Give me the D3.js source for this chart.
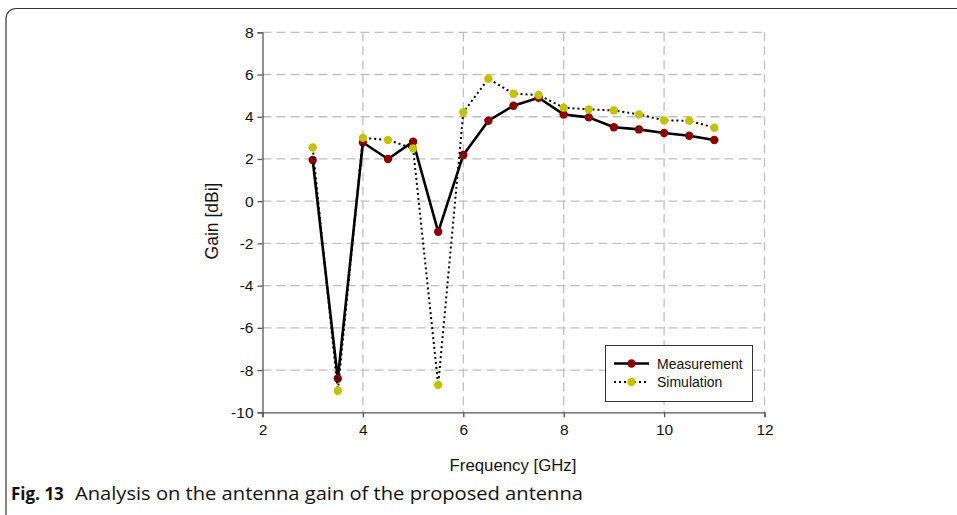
<!DOCTYPE html>
<html><head><meta charset="utf-8">
<script src="https://cdn.jsdelivr.net/npm/d3@7"></script>
<style>
body{margin:0;background:#fff;}
svg{display:block;}
</style></head>
<body>
<svg id="chart" width="957" height="515"></svg>
<script>
const frequencies = [3, 3.5, 4, 4.5, 5, 5.5, 6, 6.5, 7, 7.5, 8, 8.5, 9, 9.5, 10, 10.5, 11];
const measurement = [1.95, -8.4, 2.78, 2.0, 2.82, -1.45, 2.19, 3.81, 4.52, 4.9, 4.11, 3.97, 3.5, 3.4, 3.23, 3.1, 2.9];
const simulation = [2.54, -8.98, 3.0, 2.9, 2.5, -8.7, 4.21, 5.8, 5.09, 5.03, 4.43, 4.35, 4.3, 4.11, 3.83, 3.81, 3.48];
const xTicks = [2, 4, 6, 8, 10, 12];
const yTicks = [-10, -8, -6, -4, -2, 0, 2, 4, 6, 8];
const seriesNames = ["Measurement", "Simulation"];

const svg = d3.select("#chart");
const L = 262.5, R = 764.5, T = 32.3, B = 412.3;
const x = d3.scaleLinear().domain([2, 12]).range([L, R]);
const y = d3.scaleLinear().domain([-10, 8]).range([B, T]);

// frame
svg.append("rect").attr("x", 6).attr("y", 8.5).attr("width", 1000).attr("height", 560)
  .attr("rx", 10).attr("fill", "none").attr("stroke", "#333").attr("stroke-width", 1.2);

// grid
const grid = svg.append("g");
grid.selectAll(".vg").data(xTicks.filter(d => d > 2)).enter().append("line")
  .attr("x1", d => x(d)).attr("x2", d => x(d)).attr("y1", T).attr("y2", B)
  .attr("stroke", "#c0c0c0").attr("stroke-width", 1.3).attr("stroke-dasharray", "9,5");
grid.selectAll(".hg").data(yTicks.filter(d => d > -10)).enter().append("line")
  .attr("x1", L).attr("x2", R).attr("y1", d => y(d)).attr("y2", d => y(d))
  .attr("stroke", "#c0c0c0").attr("stroke-width", 1.3).attr("stroke-dasharray", "9,5");

// axes
const fontFam = "'Liberation Sans', Arial, sans-serif";
const fmt = d => String(d);
const yAxis = svg.append("g").attr("transform", `translate(${L},0)`)
  .call(d3.axisLeft(y).tickValues(yTicks).tickSize(5).tickPadding(4).tickFormat(fmt));
const xAxis = svg.append("g").attr("transform", `translate(0,${B})`)
  .call(d3.axisBottom(x).tickValues(xTicks).tickSize(5).tickPadding(7).tickFormat(fmt));
[yAxis, xAxis].forEach(a => {
  a.select(".domain").attr("stroke", "#555").attr("stroke-width", 1.3);
  a.selectAll(".tick line").attr("stroke", "#555").attr("stroke-width", 1.3);
  a.selectAll("text").attr("font-family", fontFam).attr("font-size", 15.5).attr("fill", "#111");
});

// lines
const data = frequencies.map((f, i) => ({ f, m: measurement[i], s: simulation[i] }));
const lineM = d3.line().x(d => x(d.f)).y(d => y(d.m));
const lineS = d3.line().x(d => x(d.f)).y(d => y(d.s));

svg.append("path").datum(data).attr("d", lineM).attr("fill", "none")
  .attr("stroke", "#000").attr("stroke-width", 2.6).attr("stroke-linejoin", "round");
svg.append("g").selectAll("circle").data(data).enter().append("circle")
  .attr("cx", d => x(d.f)).attr("cy", d => y(d.m)).attr("r", 4.2).attr("fill", "#8b0000");

svg.append("path").datum(data).attr("d", lineS).attr("fill", "none")
  .attr("stroke", "#000").attr("stroke-width", 2).attr("stroke-dasharray", "2,3");
svg.append("g").selectAll("circle").data(data).enter().append("circle")
  .attr("cx", d => x(d.f)).attr("cy", d => y(d.s)).attr("r", 4.2).attr("fill", "#c2c200");

// legend
const lg = svg.append("g");
lg.append("rect").attr("x", 605.5).attr("y", 345.5).attr("width", 147).attr("height", 56)
  .attr("fill", "#fff").attr("stroke", "#333").attr("stroke-width", 1);
const legendItems = [
  { name: seriesNames[0], color: "#8b0000", dash: null, w: 2.6, yy: 363.5 },
  { name: seriesNames[1], color: "#c2c200", dash: "2,3", w: 2, yy: 382 }
];
legendItems.forEach(it => {
  const l = lg.append("line").attr("x1", 614).attr("x2", 649).attr("y1", it.yy).attr("y2", it.yy)
    .attr("stroke", "#000").attr("stroke-width", it.w);
  if (it.dash) l.attr("stroke-dasharray", it.dash);
  lg.append("circle").attr("cx", 631.5).attr("cy", it.yy).attr("r", 4.2).attr("fill", it.color);
  lg.append("text").attr("x", 657).attr("y", it.yy + 5).text(it.name)
    .attr("font-family", fontFam).attr("font-size", 14).attr("fill", "#111");
});

// axis titles
svg.append("text").attr("transform", "translate(218,221) rotate(-90)").attr("text-anchor", "middle")
  .attr("font-family", fontFam).attr("font-size", 17.5).attr("fill", "#111").text("Gain [dBi]");
svg.append("text").attr("x", 513).attr("y", 471).attr("text-anchor", "middle")
  .attr("font-family", fontFam).attr("font-size", 16.8).attr("fill", "#111").text("Frequency [GHz]");

// caption
const cap = svg.append("text").attr("x", 11).attr("y", 500)
  .attr("font-family", "'Open Sans', 'Noto Sans', sans-serif").attr("font-size", 17).attr("fill", "#111");
cap.append("tspan").attr("font-weight", "bold").text("Fig. 13");
cap.append("tspan").attr("x", 75).attr("font-size", 18.5)
  .attr("textLength", 508).attr("lengthAdjust", "spacingAndGlyphs")
  .text("Analysis on the antenna gain of the proposed antenna");
</script>
</body></html>
